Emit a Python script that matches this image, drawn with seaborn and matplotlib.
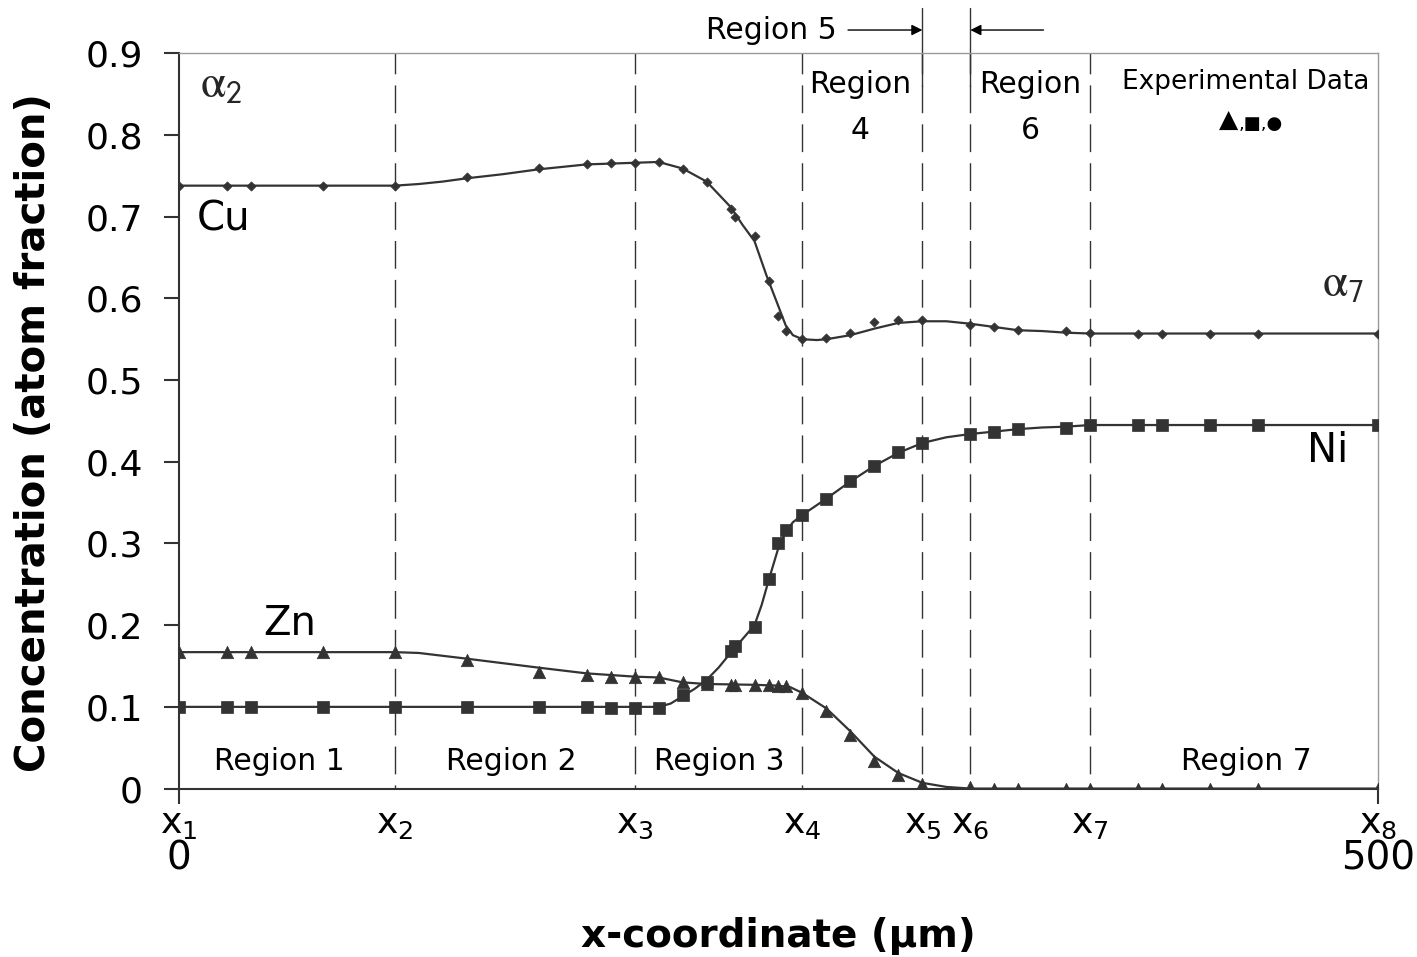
import matplotlib
matplotlib.use("Agg")
import matplotlib.pyplot as plt
import seaborn as sns

sns.set_style("ticks")
plt.rcParams["font.family"] = ["DejaVu Sans"]
plt.rcParams["mathtext.fontset"] = "stix"

# Region boundaries (µm) and their labels
boundaries = [0, 90, 190, 260, 310, 330, 380, 500]
boundary_labels = [r"$\mathregular{x_%d}$" % i for i in range(1, 9)]
end_labels = ["0", "500"]
y_ticks = [0, 0.1, 0.2, 0.3, 0.4, 0.5, 0.6, 0.7, 0.8, 0.9]
y_tick_labels = ["0", "0.1", "0.2", "0.3", "0.4", "0.5", "0.6", "0.7", "0.8", "0.9"]

# Experimental compositions (atom fraction)
x_exp = [0, 20, 30, 60, 90, 120, 150, 170, 180, 190, 200, 210, 220, 230, 232,
         240, 246, 250, 253, 260, 270, 280, 290, 300, 310, 330, 340, 350, 370,
         380, 400, 410, 430, 450, 500]
cu_exp = [0.738, 0.738, 0.738, 0.738, 0.738, 0.748, 0.760, 0.764, 0.766, 0.766,
          0.767, 0.758, 0.742, 0.710, 0.700, 0.676, 0.621, 0.578, 0.560, 0.550,
          0.552, 0.558, 0.571, 0.573, 0.573, 0.567, 0.565, 0.561, 0.560, 0.558,
          0.557, 0.557, 0.557, 0.557, 0.557]
ni_exp = [0.100, 0.100, 0.100, 0.100, 0.100, 0.100, 0.100, 0.100, 0.099, 0.099,
          0.099, 0.115, 0.131, 0.168, 0.174, 0.198, 0.256, 0.300, 0.316, 0.335,
          0.354, 0.376, 0.395, 0.412, 0.423, 0.434, 0.437, 0.440, 0.441, 0.445,
          0.445, 0.445, 0.445, 0.445, 0.445]
zn_exp = [0.167, 0.167, 0.167, 0.167, 0.167, 0.157, 0.143, 0.139, 0.137, 0.136,
          0.137, 0.131, 0.128, 0.127, 0.127, 0.127, 0.127, 0.126, 0.126, 0.117,
          0.095, 0.066, 0.034, 0.017, 0.006, 0.002, 0.0, 0.0, 0.0, 0.0,
          0.0, 0.0, 0.0, 0.0, 0.0]

# Calculated profiles
cu_fit_x = [0, 90, 100, 110, 120, 135, 150, 170, 190, 200, 210, 220, 230, 235,
            240, 245, 250, 253, 256, 260, 266, 270, 280, 290, 300, 310, 320,
            330, 340, 350, 360, 370, 380, 500]
cu_fit = [0.738, 0.738, 0.740, 0.743, 0.747, 0.752, 0.758, 0.764, 0.766, 0.767,
          0.759, 0.743, 0.712, 0.690, 0.670, 0.628, 0.590, 0.567, 0.555, 0.550,
          0.549, 0.550, 0.555, 0.563, 0.570, 0.572, 0.572, 0.569, 0.565, 0.561,
          0.560, 0.558, 0.557, 0.557]
ni_fit_x = [0, 200, 205, 210, 215, 220, 225, 230, 235, 240, 243, 246, 250, 253,
            256, 260, 270, 280, 290, 300, 310, 320, 330, 340, 350, 360, 370,
            380, 500]
ni_fit = [0.100, 0.100, 0.104, 0.113, 0.122, 0.133, 0.148, 0.166, 0.183, 0.200,
          0.225, 0.256, 0.295, 0.314, 0.326, 0.335, 0.355, 0.376, 0.395, 0.411,
          0.423, 0.430, 0.434, 0.437, 0.440, 0.442, 0.443, 0.445, 0.445]
zn_fit_x = [0, 90, 100, 120, 150, 170, 190, 200, 205, 210, 220, 240, 250, 255,
            260, 270, 280, 290, 300, 310, 320, 330, 500]
zn_fit = [0.167, 0.167, 0.166, 0.159, 0.148, 0.141, 0.137, 0.136, 0.133, 0.130,
          0.128, 0.127, 0.126, 0.124, 0.117, 0.098, 0.070, 0.039, 0.019, 0.007,
          0.002, 0.0, 0.0]

ink = "#333333"

fig = plt.figure(figsize=(14.17, 9.57), dpi=100)
ax = fig.add_axes([0.1263, 0.1760, 0.8462, 0.7683])
ax.set_xlim(0, 500)
ax.set_ylim(0, 0.9)

# Region boundaries
for b in boundaries[1:-1]:
    ax.plot([b, b], [0.9, 0.0], ls=(5, (20, 8)), lw=1.0, color=ink, zorder=1)
for b in boundaries[4:6]:
    ax.plot([b, b], [0.86, 0.955], lw=1.0, color=ink, clip_on=False, zorder=1)

# Calculated curves
for fx, fy in [(cu_fit_x, cu_fit), (ni_fit_x, ni_fit), (zn_fit_x, zn_fit)]:
    sns.lineplot(x=fx, y=fy, ax=ax, color=ink, lw=1.6, sort=False, zorder=3)

# Measured points
sns.scatterplot(x=x_exp, y=cu_exp, ax=ax, marker="D", s=22, color=ink,
                edgecolor=ink, linewidth=0.5, zorder=4)
sns.scatterplot(x=x_exp, y=ni_exp, ax=ax, marker="s", s=80, color=ink,
                edgecolor=ink, linewidth=0.5, zorder=4)
sns.scatterplot(x=x_exp, y=zn_exp, ax=ax, marker="^", s=80, color=ink,
                edgecolor=ink, linewidth=0.5, zorder=4)

# Axes styling
for side in ["left", "bottom"]:
    ax.spines[side].set_color(ink)
    ax.spines[side].set_linewidth(1.5)
for side in ["top", "right"]:
    ax.spines[side].set_visible(True)
    ax.spines[side].set_color("#999999")
    ax.spines[side].set_linewidth(1.0)

ax.set_yticks(y_ticks, labels=y_tick_labels)
ax.tick_params(axis="y", direction="out", length=11, width=1.5, color=ink,
               pad=15, labelsize=26, labelcolor="black")

ax.set_xticks(boundaries, labels=boundary_labels)
ax.tick_params(axis="x", which="major", direction="out", length=10.5,
               width=1.5, color=ink, pad=3, labelsize=26, labelcolor="black")
for t in ax.xaxis.get_major_ticks()[1:-1]:
    t.tick1line.set_visible(False)
ax.xaxis.remove_overlapping_locs = False
ax.set_xticks([0, 500], labels=end_labels, minor=True)
ax.tick_params(axis="x", which="minor", length=0, pad=37, labelsize=28,
               labelcolor="black")

ax.set_ylabel("Concentration (atom fraction)", fontsize=29, fontweight="bold",
              color="black")
ax.yaxis.set_label_coords(-0.104, 0.484)
ax.set_xlabel("x-coordinate (µm)", fontsize=28, fontweight="bold",
              color="black")
ax.xaxis.set_label_coords(0.5, -0.174)

# Annotations
reg = dict(fontsize=21.5, ha="center", va="center", color="black")
ax.text(42, 0.033, "Region 1", **reg)
ax.text(138.5, 0.033, "Region 2", **reg)
ax.text(225.5, 0.033, "Region 3", **reg)
ax.text(445, 0.033, "Region 7", **reg)
ax.text(284, 0.862, "Region", **reg)
ax.text(284, 0.806, "4", **reg)
ax.text(355, 0.862, "Region", **reg)
ax.text(355, 0.806, "6", **reg)
ax.text(247, 0.9285, "Region 5", clip_on=False, **reg)

arrow = dict(arrowstyle="-|>", color="black", lw=1.0, mutation_scale=16,
             shrinkA=0, shrinkB=0)
ax.annotate("", xy=(310, 0.9285), xytext=(279, 0.9285), arrowprops=arrow,
            annotation_clip=False)
ax.annotate("", xy=(330, 0.9285), xytext=(360.5, 0.9285), arrowprops=arrow,
            annotation_clip=False)

ax.text(445, 0.865, "Experimental Data", fontsize=19, ha="center",
        va="center", color="black")
ax.text(437.5, 0.818, "▲", fontsize=18, ha="center", va="center",
        color="black")
ax.text(442, 0.814, ",■,●", fontsize=13, ha="left", va="center",
        color="black")

lab = dict(fontsize=29, ha="center", va="center", color="black")
ax.text(18.8, 0.696, "Cu", **lab)
ax.text(46, 0.201, "Zn", **lab)
ax.text(479, 0.413, "Ni", **lab)
ax.text(17.5, 0.862, r"$\mathrm{\alpha}_{\mathsf{2}}$", fontsize=33,
        ha="center", va="center")
ax.text(485.5, 0.618, r"$\mathrm{\alpha}_{\mathsf{7}}$", fontsize=33,
        ha="center", va="center")

fig.savefig("out.png", dpi=100, facecolor="white")
